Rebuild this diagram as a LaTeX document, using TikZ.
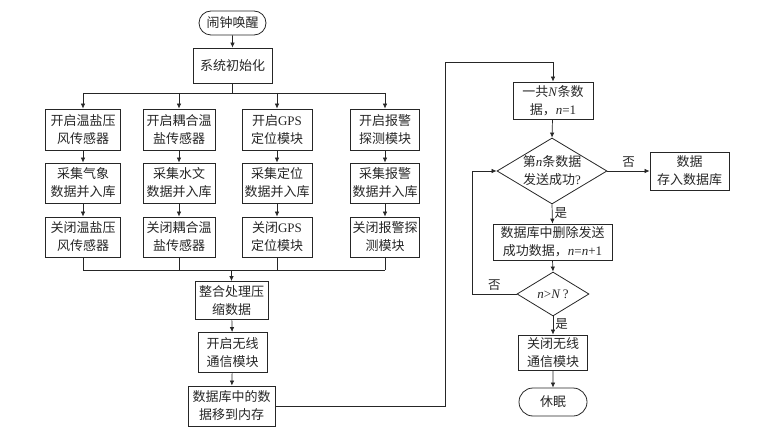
\documentclass[tikz,border=0pt]{standalone}
\usepackage{fontspec}
\setmainfont{Liberation Serif}
\newfontfamily\cjk{Noto Sans CJK SC}
\usetikzlibrary{arrows.meta,shapes.misc,shapes.geometric}
\newcommand\lt[1]{{\rmfamily #1}}
\begin{document}
\begin{tikzpicture}[x=1pt,y=-1pt,
  every node/.style={font=\cjk\fontsize{13}{18}\selectfont, align=center, text=black!85},
  box/.style={draw=black!85, line width=0.8pt, rectangle, inner xsep=1pt, inner ysep=0pt},
  pill/.style={draw=black!85, line width=0.8pt, rounded rectangle, inner sep=0pt},
  dia/.style={draw=black!85, line width=0.8pt, diamond, inner sep=0pt},
  arr/.style={-{Latex[length=5pt,width=4.5pt]}},
  ln/.style={line width=0.7pt, draw=black!85},
  yn/.style={font=\cjk\fontsize{12.5}{14}\selectfont}
]
\useasboundingbox (0,0) rectangle (771,433);

% top
\node[pill, minimum width=67, minimum height=24] (wake) at (232.5,23) {闹钟唤醒};
\node[box, minimum width=79, minimum height=35] (init) at (232.5,65.5) {系统初始化};

% columns
\node[box, minimum width=75, minimum height=41] (a1) at (83,129.5) {开启温盐压\\风传感器};
\node[box, minimum width=75, minimum height=40] (a2) at (83,183) {采集气象\\数据并入库};
\node[box, minimum width=75, minimum height=40] (a3) at (83,237) {关闭温盐压\\风传感器};

\node[box, minimum width=72, minimum height=41] (b1) at (179,129.5) {开启耦合温\\盐传感器};
\node[box, minimum width=72, minimum height=40] (b2) at (179,183) {采集水文\\数据并入库};
\node[box, minimum width=72, minimum height=40] (b3) at (179,237) {关闭耦合温\\盐传感器};

\node[box, minimum width=70, minimum height=41] (c1) at (277,129.5) {开启\lt{GPS}\\定位模块};
\node[box, minimum width=70, minimum height=40] (c2) at (277,183) {采集定位\\数据并入库};
\node[box, minimum width=70, minimum height=40] (c3) at (277,237) {关闭\lt{GPS}\\定位模块};

\node[box, minimum width=69, minimum height=41] (d1) at (385,129.5) {开启报警\\探测模块};
\node[box, minimum width=69, minimum height=40] (d2) at (385,183) {采集报警\\数据并入库};
\node[box, minimum width=69, minimum height=40] (d3) at (385,237) {关闭报警探\\测模块};

% middle
\node[box, minimum width=73, minimum height=38] (integ) at (231.5,300.5) {整合处理压\\缩数据};
\node[box, minimum width=69, minimum height=40] (radio) at (232.5,352.5) {开启无线\\通信模块};
\node[box, minimum width=87, minimum height=40] (mem) at (231.5,406) {数据库中的数\\据移到内存};

% right column
\node[box, minimum width=80, minimum height=37] (total) at (553,100.5) {一共\lt{\textit{N}}条数\\据，\lt{\textit{n}=1}};
\node[dia, minimum width=110, minimum height=66,
  label={[align=center]center:第\lt{\textit{n}}条数据\\发送成功\lt{?}}] (q1) at (552,171) {};
\node[box, minimum width=79, minimum height=38] (store) at (689.5,171) {数据\\存入数据库};
\node[box, minimum width=119, minimum height=36] (del) at (552.5,242) {数据库中删除发送\\成功数据，\lt{\textit{n}=\textit{n}+1}};
\node[dia, minimum width=72, minimum height=44,
  label={center:\lt{\textit{n}>\textit{N}\,?}}] (q2) at (553,294) {};
\node[box, minimum width=69, minimum height=35] (close) at (553,352.5) {关闭无线\\通信模块};
\node[pill, minimum width=68, minimum height=28] (sleep) at (553,402) {休眠};

% coordinates
\coordinate (bL) at (83,93);
\coordinate (bR) at (385,93);
\coordinate (mL) at (83,270);
\coordinate (mR) at (385,270);
\coordinate (cr) at (445,62);
\coordinate (lp) at (472,294);

% connectors top
\draw[ln,arr] (wake) -- (init);
\draw[ln] (init.south) -- (init.south |- bL);
\draw[ln] (bL) -- (bR);
\foreach \c in {a,b,c,d} {
  \draw[ln,arr] (\c1.north |- bL) -- (\c1.north);
  \draw[ln,arr] (\c1) -- (\c2);
  \draw[ln,arr] (\c2) -- (\c3);
  \draw[ln] (\c3.south) -- (\c3.south |- mL);
}
\draw[ln] (mL) -- (mR);
\draw[ln,arr] (integ.north |- mL) -- (integ.north);
\draw[ln,arr] (integ) -- (radio);
\draw[ln,arr] (radio) -- (mem);

% to right column
\draw[ln,arr] (mem.east) -| (cr) -| (total.north);
\draw[ln,arr] (total) -- (q1.north);
\draw[ln,arr] (q1.east) -- node[yn, above, pos=0.5] {否} (store.west);
\draw[ln,arr] (q1.south) -- node[yn, right, pos=0.45, inner xsep=2pt] {是} (del.north);
\draw[ln,arr] (del.south) -- (q2.north);
\draw[ln,arr] (q2.south) -- node[yn, right, pos=0.4, inner xsep=2pt] {是} (close.north);
\draw[ln,arr] (close) -- (sleep);
\draw[ln,arr] (q2.west) -- node[yn, above, pos=0.5] {否} (lp) |- (q1.west);
\end{tikzpicture}
\end{document}
